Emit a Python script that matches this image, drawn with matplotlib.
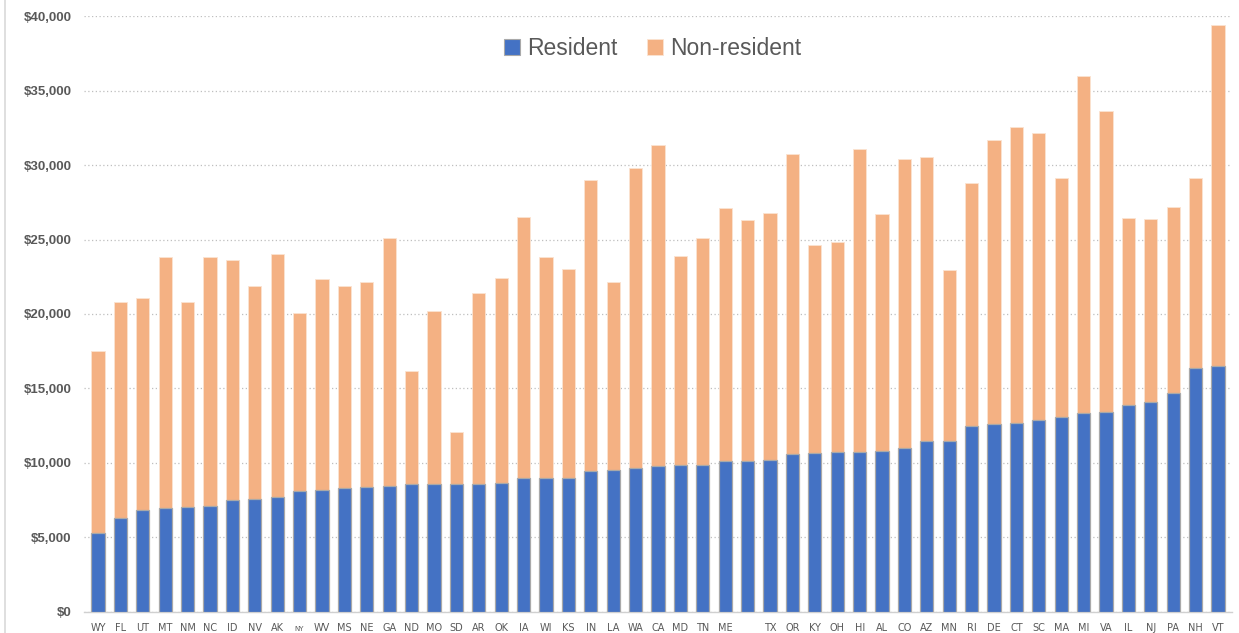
import matplotlib.pyplot as plt
import matplotlib.ticker as mticker
from matplotlib.lines import Line2D
from matplotlib.patches import Patch

# ==============================================================================
# Data: average published tuition by state, resident vs non-resident
# ==============================================================================
states = ['WY', 'FL', 'UT', 'MT', 'NM', 'NC', 'ID', 'NV', 'AK', 'NY',
          'WV', 'MS', 'NE', 'GA', 'ND', 'MO', 'SD', 'AR', 'OK', 'IA',
          'WI', 'KS', 'IN', 'LA', 'WA', 'CA', 'MD', 'TN', 'ME', '',
          'TX', 'OR', 'KY', 'OH', 'HI', 'AL', 'CO', 'AZ', 'MN', 'RI',
          'DE', 'CT', 'SC', 'MA', 'MI', 'VA', 'IL', 'NJ', 'PA', 'NH', 'VT']

resident = [5270, 6290, 6870, 6980, 7050, 7120, 7490, 7600, 7720, 8120,
            8180, 8300, 8400, 8470, 8600, 8600, 8600, 8600, 8670, 9000,
            9000, 9000, 9450, 9500, 9650, 9800, 9870, 9870, 10160, 10160,
            10200, 10580, 10650, 10730, 10760, 10800, 11020, 11450, 11450, 12470,
            12630, 12700, 12880, 13120, 13340, 13400, 13880, 14100, 14700, 16370, 16530]

non_resident = [17500, 20800, 21100, 23800, 20800, 23800, 23650, 21900, 24000, 20050,
                22350, 21900, 22170, 25100, 16170, 20200, 12100, 21400, 22400, 26500,
                23800, 23050, 28970, 22170, 29800, 31340, 23880, 25100, 27100, 26280,
                26750, 30760, 24660, 24820, 31100, 26680, 30380, 30560, 22960, 28790,
                31700, 32570, 32170, 29150, 35980, 33610, 26450, 26390, 27170, 29140, 39400]

# ==============================================================================
# Plot
# ==============================================================================
grey = '#595959'
blue = '#4472C4'
orange = '#F4B183'

fig = plt.figure(figsize=(12.39, 6.33), dpi=100)
ax = fig.add_axes([0.0678, 0.0332, 0.9266, 0.9415])

x = list(range(len(states)))
ax.bar(x, non_resident, width=0.59, color=orange, edgecolor='#fbe3d1',
       linewidth=0.6, zorder=2, label='Non-resident')
ax.bar(x, resident, width=0.59, color=blue, edgecolor='#a9a9a9',
       linewidth=0.9, zorder=3, label='Resident')

ax.set_xlim(-0.625, len(states) - 0.375)
ax.set_ylim(0, 40000)

# y axis
ax.yaxis.set_major_locator(mticker.MultipleLocator(5000))
ax.yaxis.set_major_formatter(mticker.StrMethodFormatter('${x:,.0f}'))
for lab in ax.get_yticklabels():
    lab.set_fontfamily(['Liberation Sans', 'DejaVu Sans'])
    lab.set_fontweight('bold')
ax.tick_params(axis='y', length=0, pad=9, labelsize=9.5, labelcolor=grey)
ax.grid(axis='y', linestyle=(0, (1, 2)), color='#bfbfbf', linewidth=0.9, zorder=0)

# x axis
ax.set_xticks(x)
ax.set_xticklabels(states, fontfamily=['Liberation Sans Narrow', 'DejaVu Sans'])
ax.tick_params(axis='x', length=0, pad=8, labelsize=7, labelcolor=grey)
ny = ax.get_xticklabels()[states.index('NY')]
ny.set_fontsize(5)
ny.set_y(-0.005)

for side in ['top', 'right', 'left']:
    ax.spines[side].set_visible(False)
ax.spines['bottom'].set_color('#d0d0d0')
ax.spines['bottom'].set_linewidth(1.0)

# Legend
handles = [Patch(facecolor=blue, edgecolor='#a9a9a9', linewidth=0.8),
           Patch(facecolor=orange, edgecolor='#fbe3d1', linewidth=0.6)]
leg = ax.legend(handles, ['Resident', 'Non-resident'], loc='center',
                bbox_to_anchor=(0.495, 0.946), ncol=2, frameon=False,
                handlelength=0.7, handleheight=0.7, handletextpad=0.3,
                columnspacing=1.3,
                prop={'family': ['Liberation Sans', 'DejaVu Sans'], 'size': 16.5})
for t in leg.get_texts():
    t.set_color(grey)

# Chart border on the left edge
fig.add_artist(Line2D([0.004, 0.004], [0, 1], color='#d9d9d9', linewidth=1.2))

plt.savefig('out.png', dpi=100)
